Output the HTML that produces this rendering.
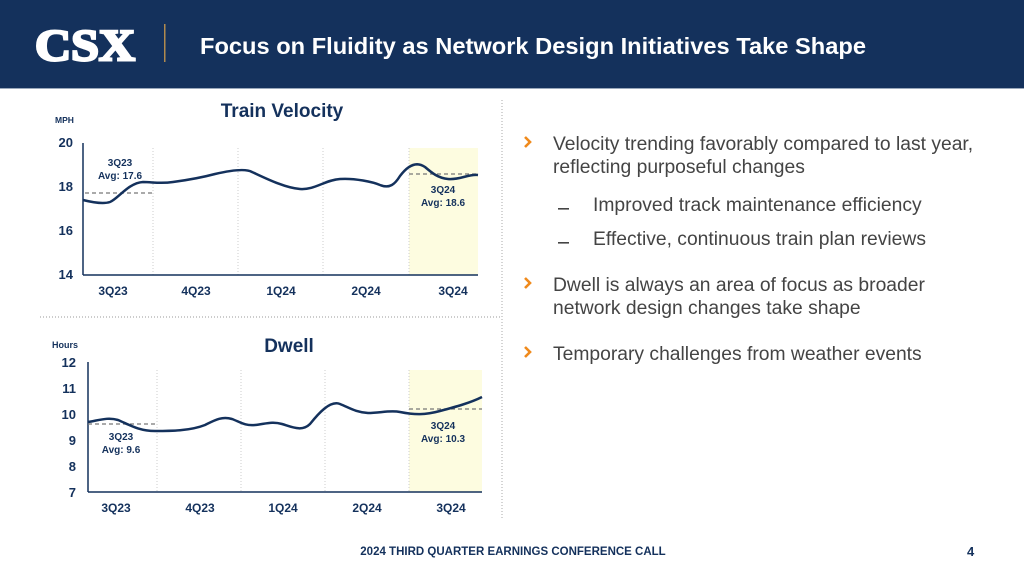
<!DOCTYPE html>
<html><head><meta charset="utf-8"><style>
body{margin:0;width:1024px;height:576px;background:#fff;overflow:hidden;font-family:"Liberation Sans",sans-serif}
</style></head><body>
<svg width="1024" height="576" viewBox="0 0 1024 576" xmlns="http://www.w3.org/2000/svg" font-family="Liberation Sans, sans-serif">
<rect x="0" y="0" width="1024" height="88" fill="#14315c"/>
<rect x="0" y="88" width="1024" height="1" fill="#9aa8bb"/>
<text x="35" y="60" font-family="Liberation Serif, serif" font-weight="bold" font-size="44" fill="#fff" stroke="#fff" stroke-width="2.5" textLength="100" lengthAdjust="spacingAndGlyphs">CSX</text>
<rect x="164" y="24" width="1.5" height="38" fill="#b08a4e"/>
<text x="200" y="54" font-weight="bold" font-size="23" fill="#fff" textLength="666" lengthAdjust="spacingAndGlyphs">Focus on Fluidity as Network Design Initiatives Take Shape</text>

<line x1="502" y1="100" x2="502" y2="520" stroke="#aaa" stroke-width="1" stroke-dasharray="1,2"/>
<line x1="40" y1="317" x2="500" y2="317" stroke="#999" stroke-width="1" stroke-dasharray="1,2"/>

<!-- Velocity -->
<text x="282" y="117" text-anchor="middle" font-weight="bold" font-size="19" fill="#14315c">Train Velocity</text>
<text x="55" y="123" font-weight="bold" font-size="8.5" fill="#14315c">MPH</text>
<rect x="409" y="148" width="69" height="127" fill="#fdfce0"/>
<g stroke="#ccc" stroke-dasharray="1,2"><line x1="153" y1="148" x2="153" y2="275"/><line x1="238" y1="148" x2="238" y2="275"/><line x1="323" y1="148" x2="323" y2="275"/><line x1="409" y1="148" x2="409" y2="275"/></g>
<line x1="83" y1="143" x2="83" y2="275" stroke="#14315c" stroke-width="1.5"/>
<line x1="83" y1="275" x2="478" y2="275" stroke="#14315c" stroke-width="1.5"/>
<g font-weight="bold" font-size="13" fill="#14315c" text-anchor="end"><text x="73" y="147">20</text><text x="73" y="191">18</text><text x="73" y="235">16</text><text x="73" y="279">14</text></g>
<g font-weight="bold" font-size="12" fill="#14315c" text-anchor="middle"><text x="113" y="295">3Q23</text><text x="196" y="295">4Q23</text><text x="281" y="295">1Q24</text><text x="366" y="295">2Q24</text><text x="453" y="295">3Q24</text></g>
<line x1="85" y1="193" x2="153" y2="193" stroke="#777" stroke-width="1.2" stroke-dasharray="4,3"/>
<line x1="409" y1="174" x2="478" y2="174" stroke="#777" stroke-width="1.2" stroke-dasharray="4,3"/>
<path d="M83,200 C95,203 104,204 110,202 C118,199 128,183 143,182 C153,182 160,184 173,182 C188,180 200,178 215,174 C228,171 245,168 252,172 C265,178 285,188 300,189 C315,190 325,180 340,179 C355,178 373,182 380,185 C390,189 395,184 400,176 C406,168 415,160 425,167 C432,173 438,178 448,179 C460,180 468,174 478,175" fill="none" stroke="#14315c" stroke-width="2.5"/>
<g font-weight="bold" font-size="10" fill="#14315c" text-anchor="middle"><text x="120" y="166">3Q23</text><text x="120" y="179">Avg: 17.6</text><text x="443" y="193">3Q24</text><text x="443" y="206">Avg: 18.6</text></g>

<!-- Dwell -->
<text x="289" y="352" text-anchor="middle" font-weight="bold" font-size="19" fill="#14315c">Dwell</text>
<text x="52" y="348" font-weight="bold" font-size="9" fill="#14315c">Hours</text>
<rect x="409" y="370" width="73" height="122" fill="#fdfce0"/>
<g stroke="#ccc" stroke-dasharray="1,2"><line x1="157" y1="370" x2="157" y2="492"/><line x1="241" y1="370" x2="241" y2="492"/><line x1="325" y1="370" x2="325" y2="492"/><line x1="409" y1="370" x2="409" y2="492"/></g>
<line x1="88" y1="362" x2="88" y2="492" stroke="#14315c" stroke-width="1.5"/>
<line x1="88" y1="492" x2="482" y2="492" stroke="#14315c" stroke-width="1.5"/>
<g font-weight="bold" font-size="13" fill="#14315c" text-anchor="end"><text x="76" y="367">12</text><text x="76" y="393">11</text><text x="76" y="419">10</text><text x="76" y="445">9</text><text x="76" y="471">8</text><text x="76" y="497">7</text></g>
<g font-weight="bold" font-size="12" fill="#14315c" text-anchor="middle"><text x="116" y="512">3Q23</text><text x="200" y="512">4Q23</text><text x="283" y="512">1Q24</text><text x="367" y="512">2Q24</text><text x="451" y="512">3Q24</text></g>
<line x1="88" y1="424" x2="157" y2="424" stroke="#777" stroke-width="1.2" stroke-dasharray="4,3"/>
<line x1="409" y1="409" x2="482" y2="409" stroke="#777" stroke-width="1.2" stroke-dasharray="4,3"/>
<path d="M88,422 C100,420 108,417 118,420 C128,424 138,431 155,431 C170,431 190,431 205,425 C215,420 222,416 232,419 C240,422 245,426 255,425 C265,424 272,421 282,424 C292,427 302,432 310,424 C318,414 330,400 340,404 C350,408 355,412 368,413 C380,413 390,410 400,412 C415,415 425,415 440,411 C455,407 470,403 482,397" fill="none" stroke="#14315c" stroke-width="2.5"/>
<g font-weight="bold" font-size="10" fill="#14315c" text-anchor="middle"><text x="121" y="440">3Q23</text><text x="121" y="453">Avg: 9.6</text><text x="443" y="429">3Q24</text><text x="443" y="442">Avg: 10.3</text></g>

<g font-size="19.3" fill="#444">
<text x="553" y="150">Velocity trending favorably compared to last year,</text>
<text x="553" y="173">reflecting purposeful changes</text>
<text x="593" y="211">Improved track maintenance efficiency</text>
<text x="593" y="245">Effective, continuous train plan reviews</text>
<text x="553" y="291">Dwell is always an area of focus as broader</text>
<text x="553" y="314">network design changes take shape</text>
<text x="553" y="360">Temporary challenges from weather events</text>
</g>
<g fill="none" stroke="#f08a1c" stroke-width="2.6" stroke-linejoin="miter"><path d="M525,137 L530,142 L525,147"/><path d="M525,278 L530,283 L525,288"/><path d="M525,347 L530,352 L525,357"/></g>
<g fill="#444"><rect x="558" y="208" width="11" height="1.6"/><rect x="558" y="242" width="11" height="1.6"/></g>

<text x="513" y="555" text-anchor="middle" font-weight="bold" font-size="11.5" fill="#14315c">2024 THIRD QUARTER EARNINGS CONFERENCE CALL</text>
<text x="967" y="556" font-weight="bold" font-size="13" fill="#14315c">4</text>
</svg>
</body></html>
